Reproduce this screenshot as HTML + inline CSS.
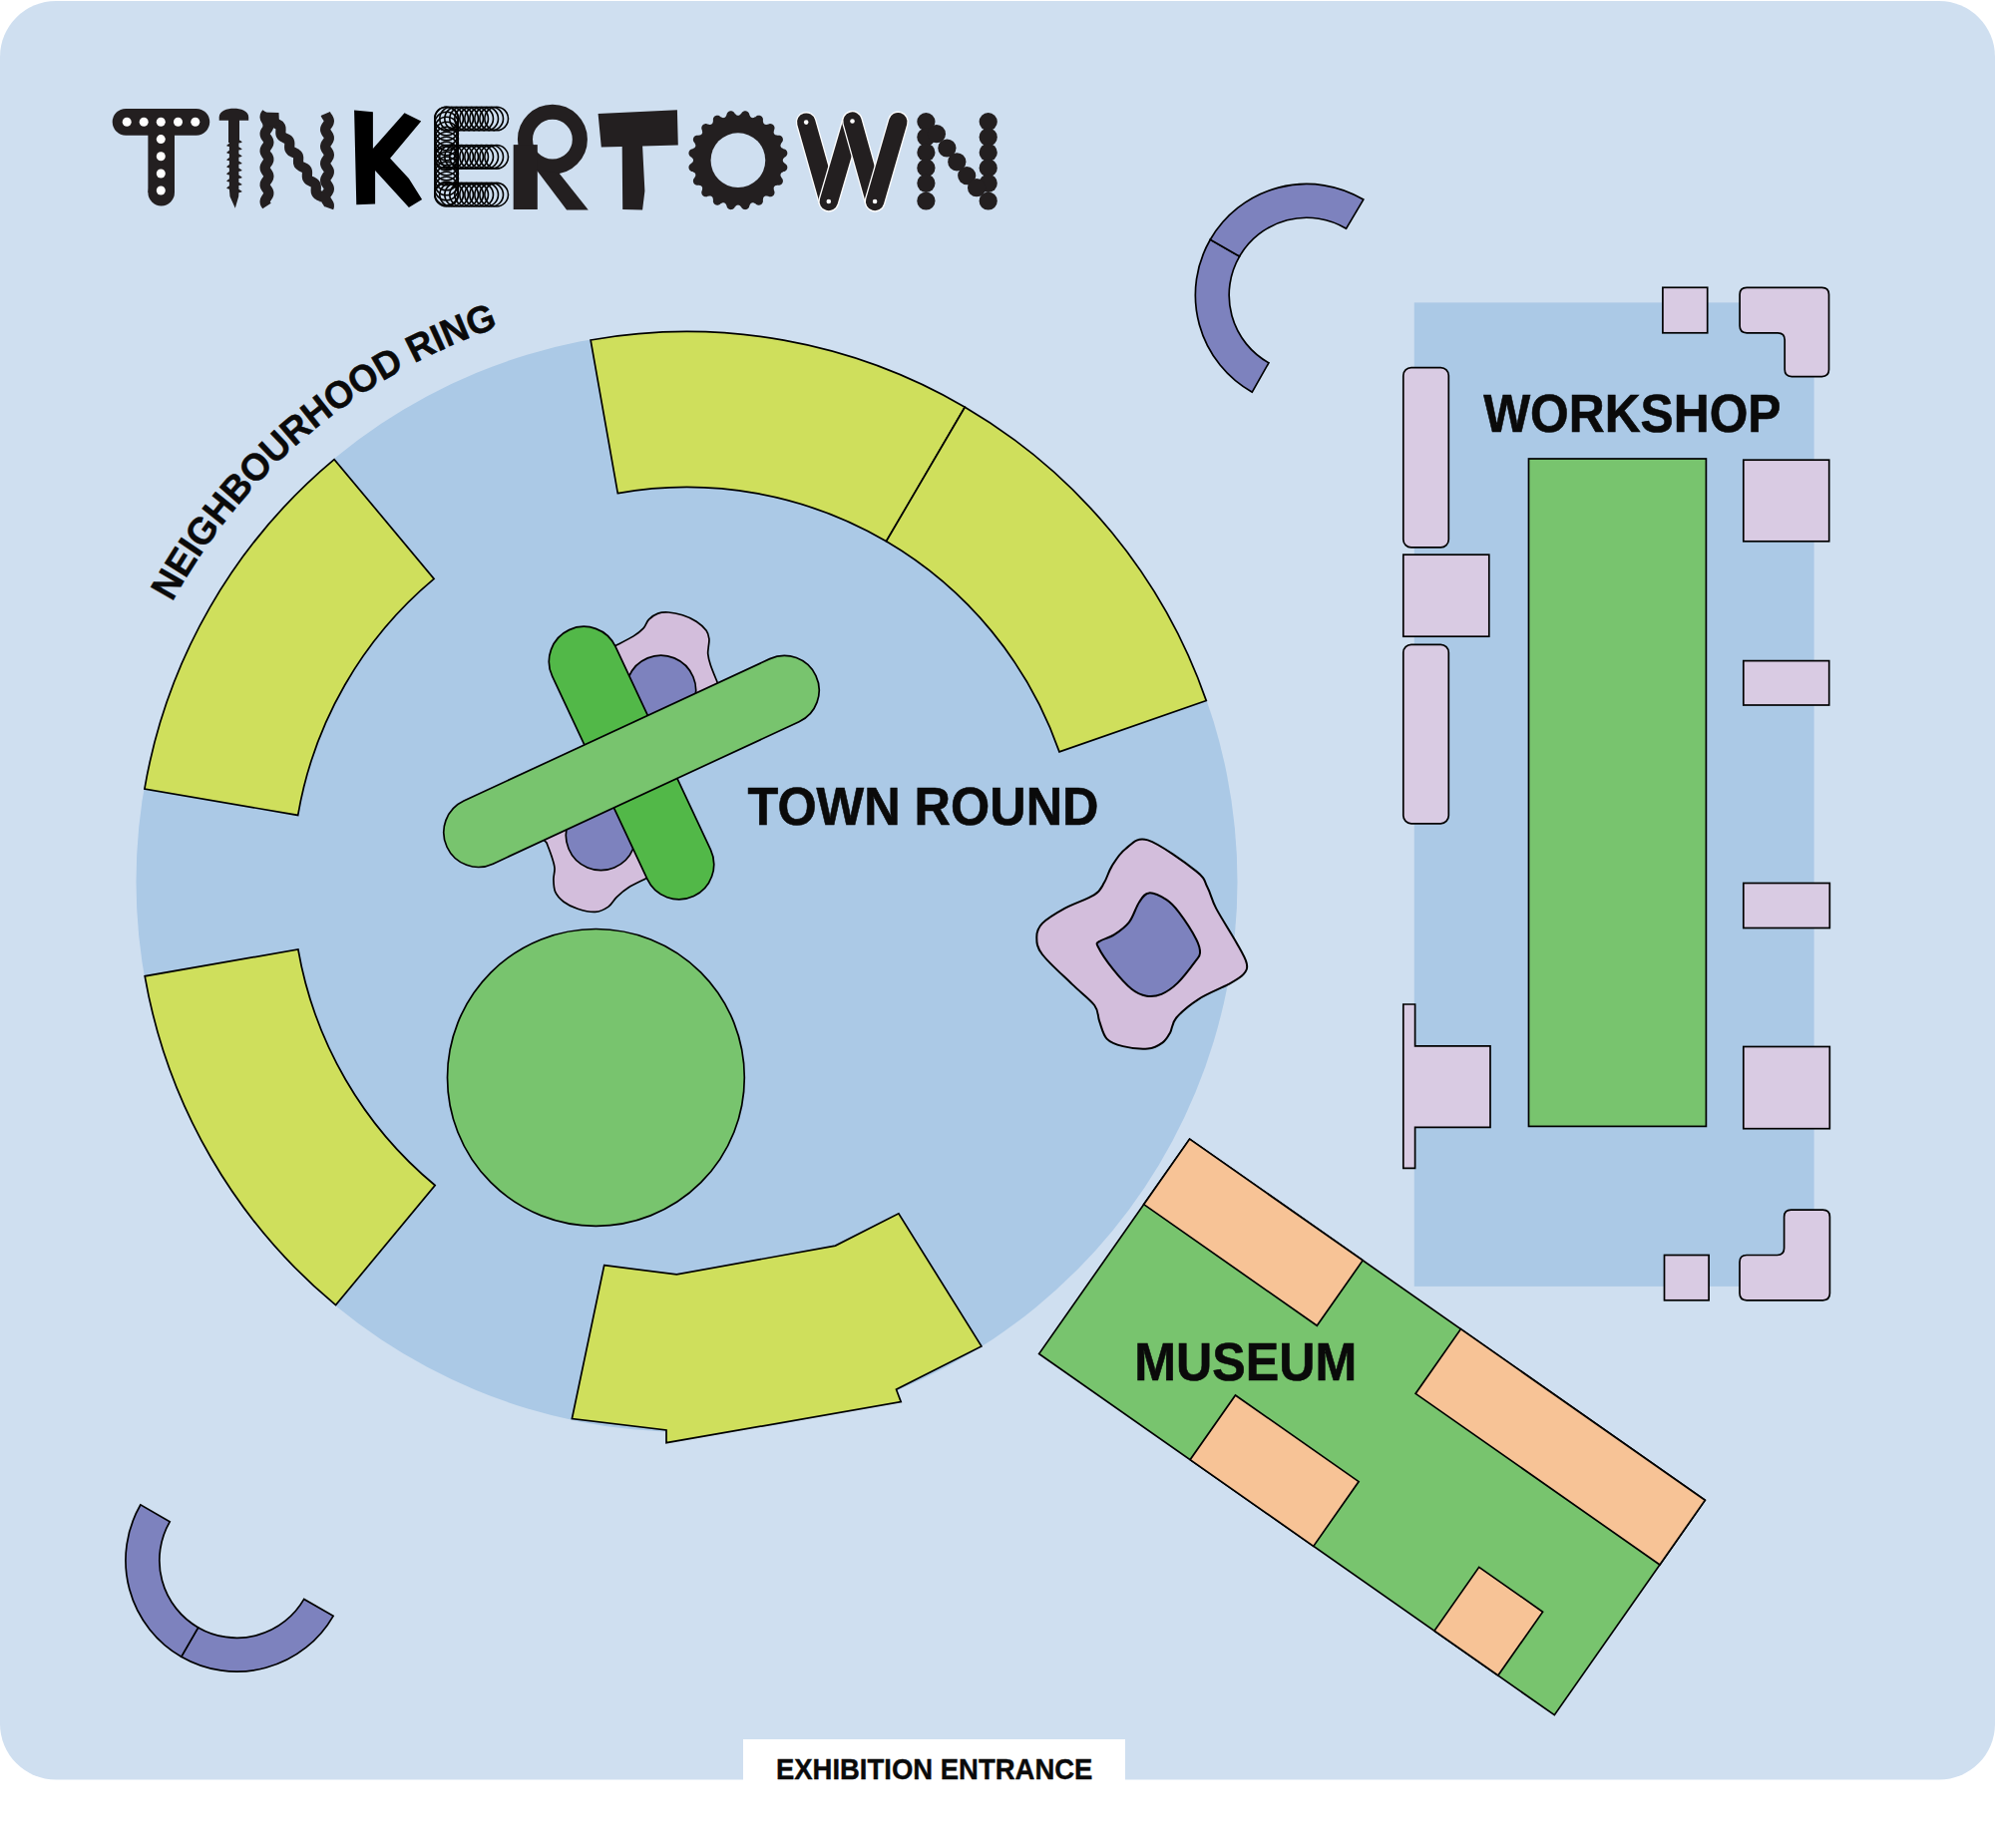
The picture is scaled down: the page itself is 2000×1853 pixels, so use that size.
<!DOCTYPE html>
<html><head><meta charset="utf-8"><style>
html,body{margin:0;padding:0;background:#fff;width:2000px;height:1853px;overflow:hidden}
svg{display:block}
</style></head><body>
<svg width="2000" height="1853" viewBox="0 0 2000 1853">
<rect x="0" y="1" width="2000" height="1783.5" rx="56" ry="56" fill="#cfdff0"/>
<circle cx="688.5" cy="884" r="552" fill="#abc9e6"/>
<path d="M592.1,341 A551.5,551.5 0 0 1 967.3,408.2 L888.5,542.8 A395.5,395.5 0 0 0 619.3,494.6 Z" fill="#cfdf5c" stroke="#000" stroke-width="1.7" stroke-linejoin="miter"/>
<path d="M967.3,408.2 A551.5,551.5 0 0 1 1209.3,702.6 L1062,753.9 A395.5,395.5 0 0 0 888.5,542.8 Z" fill="#cfdf5c" stroke="#000" stroke-width="1.7" stroke-linejoin="miter"/>
<path d="M144.9,791.1 A551.5,551.5 0 0 1 335.1,460.6 L435.1,580.4 A395.5,395.5 0 0 0 298.7,817.4 Z" fill="#cfdf5c" stroke="#000" stroke-width="1.7" stroke-linejoin="miter"/>
<path d="M336.6,1308.6 A551.5,551.5 0 0 1 145.2,978.8 L298.9,952 A395.5,395.5 0 0 0 436.1,1188.5 Z" fill="#cfdf5c" stroke="#000" stroke-width="1.7" stroke-linejoin="miter"/>
<path d="M605.7,1268.7 L678.3,1277.9 L837.4,1249.1 L900.9,1216.8 L983.9,1349.9 L898.5,1393.2 L903.2,1405.7 L668,1446.7 L668,1434 L573.4,1422.5 Z" fill="#cfdf5c" stroke="#000" stroke-width="1.7"/>
<circle cx="597.4" cy="1080.4" r="148.9" fill="#78c46e" stroke="#000" stroke-width="1.7"/>
<path d="M612,650 L617.9,647 C620.8,645.5 630.6,640.7 635.1,637.9 C639.6,635.1 642.3,633 644.9,630.2 C647.5,627.4 648,623.6 650.5,621.1 C653,618.6 656.3,616.3 659.6,615.1 C662.9,613.9 666.1,613.7 670.2,614 C674.3,614.3 679.5,615.3 684.2,616.8 C688.9,618.3 694.2,620.6 698.2,623.2 C702.2,625.8 706,629.4 708.1,632.3 C710.2,635.2 710.5,637.9 710.9,640.7 C711.2,643.5 710.4,646.5 710.2,649.1 C710,651.7 709.4,653.2 709.8,656.1 C710.1,659 710.8,662.2 712.3,666.7 C713.8,671.2 717.5,680.1 718.6,682.8 L722,692 L543,840 L547.9,844.9 C548.8,847.3 551.9,855 553.2,859.3 C554.6,863.6 555.7,866.8 556,870.5 C556.3,874.2 554.8,877.8 554.9,881.8 C555,885.8 555,890.7 556.7,894.4 C558.4,898.1 561.4,901.4 565.1,904.2 C568.8,907 573.8,909.5 579.1,911.2 C584.4,912.9 591.6,914.8 596.7,914.4 C601.9,914 606.4,911.6 610,909.1 C613.6,906.6 615.1,902.4 618.4,899.3 C621.7,896.1 624.8,893.2 629.6,890.2 C634.4,887.2 644.3,882.6 647.2,881.1 L652,878 L612,650 Z" fill="#d3bedc" stroke="#000" stroke-width="1.7"/>
<rect x="518.8" y="729.9" width="227.4" height="70" rx="35" fill="#7d82be" stroke="#000" stroke-width="1.7" transform="rotate(112.5 632.5 764.9)"/>
<rect x="485.7" y="730" width="294.7" height="70" rx="35" fill="#52b848" stroke="#000" stroke-width="1.7" transform="rotate(64.9 633 765)"/>
<rect x="429.1" y="728.6" width="407.8" height="69.6" rx="34.8" fill="#78c46e" stroke="#000" stroke-width="1.7" transform="rotate(-24.9 633 763.4)"/>
<path d="M1150.7,842.4 C1162.5,846.1 1189.3,865.7 1199.3,873.6 C1209.3,881.5 1207.2,883.6 1210.5,889.8 C1213.8,896 1214.4,901.8 1219.2,910.9 C1224,920 1234,935.4 1239.1,944.5 C1244.2,953.6 1248.5,960.3 1249.7,965.7 C1251,971.1 1249.6,973.4 1246.6,976.9 C1243.6,980.4 1239.1,982.8 1231.6,986.9 C1224.1,991 1210.4,996.2 1201.7,1001.8 C1193,1007.4 1184.1,1014.9 1179.3,1020.5 C1174.5,1026.1 1175.4,1031.2 1173.1,1035.4 C1170.8,1039.6 1169.3,1042.7 1165.6,1045.4 C1161.9,1048.1 1157.3,1051 1150.7,1051.6 C1144.1,1052.2 1132.7,1050.8 1125.8,1049.1 C1118.9,1047.4 1113.5,1045.8 1109.6,1041.6 C1105.7,1037.4 1104.3,1029.8 1102.2,1024.2 C1100.1,1018.6 1101.8,1014.2 1097.2,1008 C1092.6,1001.8 1083.5,995.4 1074.8,986.9 C1066.1,978.4 1050.8,964.9 1044.9,957 C1039,949.1 1039.3,944.7 1039.3,939.5 C1039.3,934.3 1040.2,930.7 1044.9,925.9 C1049.6,921.1 1058.6,915.7 1067.3,910.9 C1076,906.1 1090.6,901.6 1097.2,897.2 C1103.8,892.9 1104.2,889.6 1107.1,884.8 C1110,880 1111.1,874.2 1114.6,868.6 C1118.1,863 1122.3,855.6 1128.3,851.2 C1134.3,846.8 1138.9,838.7 1150.7,842.4 Z" fill="#d3bedc" stroke="#000" stroke-width="2"/>
<path d="M1152,895.4 C1156.6,895 1164.4,899 1169.4,902.2 C1174.4,905.4 1176.8,908.1 1181.8,914.7 C1186.8,921.3 1195.8,935.2 1199.3,942 C1202.8,948.8 1203.2,952 1203,955.7 C1202.8,959.4 1201.7,959.4 1198,964.4 C1194.3,969.4 1186.2,980.2 1180.6,985.6 C1175,991 1169.6,994.6 1164.4,996.8 C1159.2,999 1154.5,999.5 1149.5,998.7 C1144.5,997.9 1140.1,996.3 1134.5,991.8 C1128.9,987.3 1121.5,978.9 1115.9,971.9 C1110.3,964.9 1103.2,954.2 1100.9,949.5 C1098.6,944.8 1099.5,946 1102.2,943.9 C1104.9,941.8 1112.1,940.3 1117.1,937.1 C1122.1,933.9 1127.8,930 1132,924.6 C1136.2,919.2 1138.7,909.6 1142,904.7 C1145.3,899.8 1147.4,895.8 1152,895.4 Z" fill="#7d82be" stroke="#000" stroke-width="2"/>
<path d="M1255.3,393.2 A111.5,111.5 0 0 1 1213.3,240.2 L1242.6,257.1 A77.7,77.7 0 0 0 1271.9,363.8 Z" fill="#7d82be" stroke="#000" stroke-width="1.7"/>
<path d="M1213.3,240.2 A111.5,111.5 0 0 1 1366.8,200.1 L1349.6,229.2 A77.7,77.7 0 0 0 1242.6,257.1 Z" fill="#7d82be" stroke="#000" stroke-width="1.7"/>
<path d="M334.1,1620.3 A111.5,111.5 0 0 1 181.8,1661.2 L198.7,1631.9 A77.7,77.7 0 0 0 304.8,1603.4 Z" fill="#7d82be" stroke="#000" stroke-width="1.7"/>
<path d="M181.8,1661.2 A111.5,111.5 0 0 1 140.9,1508.8 L170.2,1525.8 A77.7,77.7 0 0 0 198.7,1631.9 Z" fill="#7d82be" stroke="#000" stroke-width="1.7"/>
<rect x="1417.8" y="303.4" width="400.8" height="986.5" fill="#abc9e6"/>
<rect x="1532.5" y="460" width="177.9" height="669.4" fill="#78c46e" stroke="#000" stroke-width="1.7"/>
<rect x="1666.9" y="288.3" width="44.8" height="45.5" rx="0" fill="#d9cbe3" stroke="#000" stroke-width="1.7"/>
<rect x="1406.8" y="368.6" width="45.5" height="180.3" rx="8" fill="#d9cbe3" stroke="#000" stroke-width="1.7"/>
<rect x="1406.8" y="556.2" width="86" height="82" rx="0" fill="#d9cbe3" stroke="#000" stroke-width="1.7"/>
<rect x="1406.8" y="646.3" width="45.5" height="179.5" rx="8" fill="#d9cbe3" stroke="#000" stroke-width="1.7"/>
<rect x="1747.8" y="461.2" width="85.9" height="81.6" rx="0" fill="#d9cbe3" stroke="#000" stroke-width="1.7"/>
<rect x="1747.8" y="662.6" width="85.9" height="44.4" rx="0" fill="#d9cbe3" stroke="#000" stroke-width="1.7"/>
<rect x="1747.8" y="885.5" width="86.5" height="45" rx="0" fill="#d9cbe3" stroke="#000" stroke-width="1.7"/>
<rect x="1747.8" y="1049.5" width="86.5" height="82.2" rx="0" fill="#d9cbe3" stroke="#000" stroke-width="1.7"/>
<rect x="1668.5" y="1258.5" width="44.6" height="45.3" rx="0" fill="#d9cbe3" stroke="#000" stroke-width="1.7"/>
<path d="M1406.8,1007 L1418.6,1007 L1418.6,1048.9 L1494,1048.9 L1494,1130.4 L1418.6,1130.4 L1418.6,1171.3 L1406.8,1171.3 Z" fill="#d9cbe3" stroke="#000" stroke-width="1.7"/>
<path d="M1751.1,288.3 L1826.5,288.3 Q1833.5,288.3 1833.5,295.3 L1833.5,370.6 Q1833.5,377.6 1826.5,377.6 L1796.2,377.6 Q1789.2,377.6 1789.2,370.6 L1789.2,340.8 Q1789.2,333.8 1782.2,333.8 L1751.1,333.8 Q1744.1,333.8 1744.1,326.8 L1744.1,295.3 Q1744.1,288.3 1751.1,288.3 Z" fill="#d9cbe3" stroke="#000" stroke-width="1.7"/>
<path d="M1795.6,1213.2 L1827.4,1213.2 Q1834.4,1213.2 1834.4,1220.2 L1834.4,1296.8 Q1834.4,1303.8 1827.4,1303.8 L1751,1303.8 Q1744,1303.8 1744,1296.8 L1744,1265.5 Q1744,1258.5 1751,1258.5 L1781.6,1258.5 Q1788.6,1258.5 1788.6,1251.5 L1788.6,1220.2 Q1788.6,1213.2 1795.6,1213.2 Z" fill="#d9cbe3" stroke="#000" stroke-width="1.7"/>
<g transform="translate(1192.6 1142.1) rotate(35.03)"><rect x="0" y="0" width="631" height="263" fill="#78c46e" stroke="#000" stroke-width="1.7"/><rect x="0" y="0" width="212" height="80" fill="#f7c396" stroke="#000" stroke-width="1.7"/><rect x="332" y="0" width="299" height="79" fill="#f7c396" stroke="#000" stroke-width="1.7"/><rect x="185" y="184" width="151" height="79" fill="#f7c396" stroke="#000" stroke-width="1.7"/><rect x="484" y="185" width="78" height="78" fill="#f7c396" stroke="#000" stroke-width="1.7"/></g>
<text x="749.5" y="827.1" font-family="Liberation Sans, sans-serif" font-weight="bold" font-size="54" stroke="#0a0a0a" stroke-width="0.6" textLength="352" lengthAdjust="spacingAndGlyphs" fill="#0a0a0a">TOWN ROUND</text>
<text x="1487.2" y="432.7" font-family="Liberation Sans, sans-serif" font-weight="bold" font-size="54" stroke="#0a0a0a" stroke-width="0.6" textLength="298.3" lengthAdjust="spacingAndGlyphs" fill="#0a0a0a">WORKSHOP</text>
<text x="1137.2" y="1384.2" font-family="Liberation Sans, sans-serif" font-weight="bold" font-size="54" stroke="#0a0a0a" stroke-width="0.6" textLength="223" lengthAdjust="spacingAndGlyphs" fill="#0a0a0a">MUSEUM</text>
<rect x="745" y="1744" width="383" height="60" fill="#fff"/>
<text x="777.9" y="1784" font-family="Liberation Sans, sans-serif" font-weight="bold" font-size="30" stroke="#0a0a0a" stroke-width="0.4" textLength="317.5" lengthAdjust="spacingAndGlyphs" fill="#0a0a0a">EXHIBITION ENTRANCE</text>
<g font-family="Liberation Sans, sans-serif" font-weight="bold" font-size="38" stroke="#0a0a0a" stroke-width="0.5" fill="#0a0a0a"><text transform="translate(179.1 592.3) rotate(-60.2) scale(0.969 1)" text-anchor="middle">N</text><text transform="translate(192.3 570.4) rotate(-57.7) scale(0.969 1)" text-anchor="middle">E</text><text transform="translate(201.8 555.8) rotate(-56) scale(0.969 1)" text-anchor="middle">I</text><text transform="translate(213 539.9) rotate(-54.1) scale(0.969 1)" text-anchor="middle">G</text><text transform="translate(229.7 517.9) rotate(-51.4) scale(0.969 1)" text-anchor="middle">H</text><text transform="translate(246.7 497.5) rotate(-48.8) scale(0.969 1)" text-anchor="middle">B</text><text transform="translate(265.4 477.1) rotate(-46.1) scale(0.969 1)" text-anchor="middle">O</text><text transform="translate(285 457.6) rotate(-43.4) scale(0.969 1)" text-anchor="middle">U</text><text transform="translate(304.8 439.8) rotate(-40.8) scale(0.969 1)" text-anchor="middle">R</text><text transform="translate(325.3 422.9) rotate(-38.2) scale(0.969 1)" text-anchor="middle">H</text><text transform="translate(347.4 406.3) rotate(-35.5) scale(0.969 1)" text-anchor="middle">O</text><text transform="translate(371.1 390.2) rotate(-32.7) scale(0.969 1)" text-anchor="middle">O</text><text transform="translate(394.7 375.8) rotate(-30) scale(0.969 1)" text-anchor="middle">D</text><text transform="translate(427.1 358.4) rotate(-26.4) scale(0.969 1)" text-anchor="middle">R</text><text transform="translate(443.8 350.5) rotate(-24.6) scale(0.969 1)" text-anchor="middle">I</text><text transform="translate(460.6 343) rotate(-22.8) scale(0.969 1)" text-anchor="middle">N</text><text transform="translate(486.3 332.9) rotate(-20.1) scale(0.969 1)" text-anchor="middle">G</text></g>
<g id="logo">
<rect x="112.7" y="108.9" width="97.5" height="26.8" rx="13.4" fill="#231f20"/>
<rect x="148.4" y="122" width="26.6" height="71" fill="#231f20"/>
<circle cx="161.7" cy="193.1" r="13.3" fill="#231f20"/>
<circle cx="127.2" cy="122.3" r="4.5" fill="#fff"/>
<circle cx="144.2" cy="122.3" r="4.5" fill="#fff"/>
<circle cx="161.3" cy="122.3" r="4.5" fill="#fff"/>
<circle cx="178.5" cy="122.3" r="4.5" fill="#fff"/>
<circle cx="195.8" cy="122.3" r="4.5" fill="#fff"/>
<circle cx="161.3" cy="139.6" r="4.5" fill="#fff"/>
<circle cx="161.3" cy="156.8" r="4.5" fill="#fff"/>
<circle cx="161.3" cy="174" r="4.5" fill="#fff"/>
<circle cx="161.3" cy="191" r="4.5" fill="#fff"/>
<path d="M219.7,120.7 L219.7,117.5 C219.7,111.2 227.5,108.8 234.45,108.8 C241.4,108.8 249.2,111.2 249.2,117.5 L249.2,120.7 Z" fill="#231f20"/>
<rect x="229" y="120" width="11" height="23" fill="#231f20"/>
<path d="M229.9,142 L229.9,143.7 L227.3,145.7 L227.5,146.5 L229.9,147.1 L229.9,150.8 L227.3,152.8 L227.5,153.6 L229.9,154.2 L229.9,157.9 L227.3,159.9 L227.5,160.7 L229.9,161.3 L229.9,165 L227.3,167 L227.5,167.8 L229.9,168.4 L229.9,172.1 L227.3,174.1 L227.5,174.9 L229.9,175.5 L229.9,179.2 L227.3,181.2 L227.5,182 L229.9,182.6 L229.9,186.3 L227.3,188.3 L227.5,189.1 L229.9,189.7 L230.5,197 L235.8,208.8 L239.2,197 L239.4,193.2 L242.3,192.6 L242.5,191.8 L239.4,189.8 L239.4,186.1 L242.3,185.5 L242.5,184.7 L239.4,182.7 L239.4,179 L242.3,178.4 L242.5,177.6 L239.4,175.6 L239.4,171.9 L242.3,171.3 L242.5,170.5 L239.4,168.5 L239.4,164.8 L242.3,164.2 L242.5,163.4 L239.4,161.4 L239.4,157.7 L242.3,157.1 L242.5,156.3 L239.4,154.3 L239.4,150.6 L242.3,150 L242.5,149.2 L239.4,147.2 L239.4,143.5 L242.3,142.9 L242.5,142.1 L239.4,140.1 L239.4,142 Z" fill="#231f20"/>
<path d="M267.5,113 L266.51,114.48 L265.81,115.97 L265.61,117.45 L265.96,118.94 L266.76,120.42 L267.78,121.9 L268.72,123.39 L269.3,124.87 L269.35,126.36 L268.86,127.84 L267.97,129.33 L266.94,130.81 L266.08,132.29 L265.63,133.78 L265.73,135.26 L266.35,136.75 L267.31,138.23 L268.32,139.71 L269.1,141.2 L269.4,142.68 L269.15,144.17 L268.41,145.65 L267.41,147.13 L266.43,148.62 L265.77,150.1 L265.61,151.59 L266.01,153.07 L266.85,154.56 L267.88,156.04 L268.79,157.52 L269.33,159.01 L269.33,160.49 L268.79,161.98 L267.88,163.46 L266.85,164.94 L266.01,166.43 L265.61,167.91 L265.77,169.4 L266.43,170.88 L267.41,172.37 L268.41,173.85 L269.15,175.33 L269.4,176.82 L269.1,178.3 L268.32,179.79 L267.31,181.27 L266.35,182.75 L265.73,184.24 L265.63,185.72 L266.08,187.21 L266.94,188.69 L267.97,190.17 L268.86,191.66 L269.35,193.14 L269.3,194.63 L268.72,196.11 L267.78,197.6 L266.76,199.08 L265.96,200.56 L265.61,202.05 L265.81,203.53 L266.51,205.02 L267.5,206.5" fill="none" stroke="#231f20" stroke-width="10.2" stroke-linejoin="round"/>
<path d="M272.63,119.83 L273.15,121.26 L274.16,122.4 L275.58,123.29 L277.22,124.04 L278.83,124.81 L280.16,125.75 L281.04,126.96 L281.45,128.46 L281.49,130.19 L281.38,132.01 L281.39,133.75 L281.74,135.29 L282.56,136.54 L283.84,137.51 L285.43,138.29 L287.08,139.03 L288.54,139.89 L289.61,141 L290.19,142.4 L290.34,144.05 L290.26,145.85 L290.19,147.64 L290.39,149.27 L291.03,150.63 L292.15,151.69 L293.65,152.53 L295.31,153.27 L296.87,154.07 L298.1,155.08 L298.86,156.36 L299.16,157.93 L299.14,159.69 L299.03,161.51 L299.11,163.21 L299.57,164.68 L300.52,165.85 L301.9,166.76 L303.53,167.52 L305.15,168.28 L306.53,169.19 L307.47,170.37 L307.93,171.84 L308.01,173.54 L307.9,175.36 L307.88,177.12 L308.18,178.68 L308.95,179.97 L310.18,180.97 L311.74,181.77 L313.4,182.51 L314.89,183.35 L316.01,184.42 L316.65,185.78 L316.85,187.41 L316.78,189.2 L316.7,191 L316.86,192.65 L317.44,194.05 L318.51,195.15 L319.97,196.01 L321.62,196.75 L323.21,197.54 L324.48,198.51 L325.3,199.76 L325.65,201.3" fill="none" stroke="#231f20" stroke-width="10.2" stroke-linejoin="round"/>
<path d="M326.27,114 L326.93,115.48 L327.9,116.95 L328.9,118.43 L329.64,119.91 L329.9,121.38 L329.61,122.86 L328.85,124.34 L327.84,125.81 L326.88,127.29 L326.25,128.77 L326.12,130.24 L326.54,131.72 L327.38,133.2 L328.41,134.67 L329.31,136.15 L329.83,137.62 L329.82,139.1 L329.29,140.58 L328.37,142.05 L327.35,143.53 L326.52,145.01 L326.12,146.48 L326.26,147.96 L326.91,149.44 L327.88,150.91 L328.88,152.39 L329.63,153.87 L329.9,155.34 L329.62,156.82 L328.87,158.3 L327.87,159.77 L326.91,161.25 L326.26,162.73 L326.12,164.2 L326.52,165.68 L327.36,167.16 L328.38,168.63 L329.29,170.11 L329.83,171.59 L329.83,173.06 L329.31,174.54 L328.4,176.02 L327.38,177.49 L326.54,178.97 L326.12,180.45 L326.25,181.92 L326.89,183.4 L327.85,184.88 L328.85,186.35 L329.61,187.83 L329.9,189.3 L329.64,190.78 L328.9,192.26 L327.9,193.73 L326.93,195.21 L326.27,196.69 L326.11,198.16 L326.51,199.64 L327.33,201.12 L328.35,202.59 L329.27,204.07 L329.82,205.55 L329.84,207.02 L329.33,208.5" fill="none" stroke="#231f20" stroke-width="10.2" stroke-linejoin="round"/>
<path d="M263,112.5 L279.5,113 L280,125 L263.5,127 Z" fill="#231f20"/>
<path d="M355.1,110.5 L373.9,112.3 L373.9,149.1 L405.5,113.2 L422.2,121.5 L391.1,158.8 L409.9,179 L423.1,200 L409.9,207.9 L376.1,171 L376.1,204.4 L357.3,205.3 Z" fill="#000"/>
<g fill="none" stroke="#000" stroke-width="1.6"><circle cx="447.6" cy="119" r="11.8"/><circle cx="452.61" cy="119" r="11.8"/><circle cx="457.62" cy="119" r="11.8"/><circle cx="462.63" cy="119" r="11.8"/><circle cx="467.64" cy="119" r="11.8"/><circle cx="472.65" cy="119" r="11.8"/><circle cx="477.66" cy="119" r="11.8"/><circle cx="482.67" cy="119" r="11.8"/><circle cx="487.68" cy="119" r="11.8"/><circle cx="492.69" cy="119" r="11.8"/><circle cx="497.7" cy="119" r="11.8"/><circle cx="447.6" cy="157.3" r="11.8"/><circle cx="452.61" cy="157.3" r="11.8"/><circle cx="457.62" cy="157.3" r="11.8"/><circle cx="462.63" cy="157.3" r="11.8"/><circle cx="467.64" cy="157.3" r="11.8"/><circle cx="472.65" cy="157.3" r="11.8"/><circle cx="477.66" cy="157.3" r="11.8"/><circle cx="482.67" cy="157.3" r="11.8"/><circle cx="487.68" cy="157.3" r="11.8"/><circle cx="492.69" cy="157.3" r="11.8"/><circle cx="497.7" cy="157.3" r="11.8"/><circle cx="447.6" cy="195.2" r="11.8"/><circle cx="452.61" cy="195.2" r="11.8"/><circle cx="457.62" cy="195.2" r="11.8"/><circle cx="462.63" cy="195.2" r="11.8"/><circle cx="467.64" cy="195.2" r="11.8"/><circle cx="472.65" cy="195.2" r="11.8"/><circle cx="477.66" cy="195.2" r="11.8"/><circle cx="482.67" cy="195.2" r="11.8"/><circle cx="487.68" cy="195.2" r="11.8"/><circle cx="492.69" cy="195.2" r="11.8"/><circle cx="497.7" cy="195.2" r="11.8"/><circle cx="447.6" cy="119" r="11.8"/><circle cx="447.6" cy="124" r="11.8"/><circle cx="447.6" cy="129" r="11.8"/><circle cx="447.6" cy="134" r="11.8"/><circle cx="447.6" cy="139" r="11.8"/><circle cx="447.6" cy="144" r="11.8"/><circle cx="447.6" cy="149" r="11.8"/><circle cx="447.6" cy="154" r="11.8"/><circle cx="447.6" cy="159" r="11.8"/><circle cx="447.6" cy="164" r="11.8"/><circle cx="447.6" cy="169" r="11.8"/><circle cx="447.6" cy="174" r="11.8"/><circle cx="447.6" cy="179" r="11.8"/><circle cx="447.6" cy="184" r="11.8"/><circle cx="447.6" cy="189" r="11.8"/><circle cx="447.6" cy="194" r="11.8"/></g>
<circle cx="553.9" cy="139.7" r="27.45" fill="none" stroke="#231f20" stroke-width="15.1"/>
<rect x="514.7" y="145.1" width="24.1" height="64.9" fill="#231f20"/>
<path d="M537.9,170.6 L560.6,173.8 L589.8,210.4 L568.1,210.4 Z" fill="#231f20"/>
<path d="M599.6,114 L678.9,110.3 L679.8,145.5 L644.1,146.5 L646.4,191.4 L644.1,210.4 L624.2,210 L623.7,147 L602.8,147.4 Z" fill="#231f20"/>
<path d="M784.8,160.7 L784.81,160.9 L784.83,161.09 L784.86,161.29 L784.9,161.49 L784.97,161.68 L785.04,161.88 L785.14,162.08 L785.25,162.28 L785.39,162.49 L785.56,162.69 L785.76,162.9 L786.02,163.12 L786.37,163.34 L786.41,163.54 L786.4,163.75 L786.93,163.99 L787.35,164.23 L787.68,164.46 L787.96,164.69 L788.19,164.92 L788.39,165.16 L788.56,165.39 L788.71,165.62 L788.84,165.84 L788.95,166.07 L789.05,166.3 L789.13,166.53 L789.2,166.75 L789.25,166.98 L789.29,167.2 L789.32,167.43 L789.33,167.65 L789.34,167.87 L789.33,168.09 L789.31,168.31 L789.28,168.52 L789.24,168.74 L789.19,168.95 L789.13,169.16 L789.06,169.37 L788.98,169.57 L788.88,169.78 L788.77,169.98 L788.65,170.18 L788.52,170.37 L788.37,170.56 L788.21,170.75 L788.04,170.93 L787.84,171.11 L787.63,171.28 L787.39,171.45 L787.13,171.6 L786.84,171.75 L786.51,171.89 L786.12,172.01 L785.65,172.11 L785.07,172.17 L785.02,172.37 L784.91,172.55 L784.51,172.65 L784.2,172.78 L783.94,172.91 L783.72,173.06 L783.52,173.21 L783.35,173.36 L783.2,173.53 L783.06,173.69 L782.94,173.86 L782.84,174.03 L782.75,174.21 L782.67,174.39 L782.6,174.57 L782.55,174.76 L782.51,174.96 L782.48,175.15 L782.46,175.35 L782.46,175.56 L782.47,175.77 L782.5,175.99 L782.54,176.22 L782.61,176.46 L782.71,176.71 L782.84,176.97 L783.02,177.25 L783.28,177.57 L783.26,177.78 L783.18,177.97 L783.61,178.36 L783.94,178.72 L784.18,179.04 L784.37,179.35 L784.52,179.64 L784.64,179.92 L784.73,180.19 L784.8,180.46 L784.86,180.72 L784.89,180.97 L784.91,181.21 L784.92,181.45 L784.91,181.69 L784.89,181.92 L784.86,182.15 L784.82,182.37 L784.77,182.58 L784.7,182.79 L784.63,183 L784.54,183.2 L784.45,183.4 L784.35,183.59 L784.23,183.78 L784.11,183.96 L783.98,184.14 L783.83,184.31 L783.68,184.47 L783.51,184.63 L783.34,184.78 L783.15,184.92 L782.95,185.06 L782.74,185.19 L782.52,185.31 L782.28,185.41 L782.02,185.51 L781.75,185.6 L781.45,185.67 L781.13,185.72 L780.77,185.74 L780.36,185.74 L779.88,185.68 L779.31,185.57 L779.2,185.74 L779.05,185.88 L778.64,185.85 L778.3,185.88 L778.01,185.92 L777.75,185.99 L777.52,186.08 L777.31,186.17 L777.12,186.28 L776.94,186.39 L776.77,186.52 L776.62,186.65 L776.48,186.79 L776.35,186.94 L776.22,187.09 L776.11,187.25 L776.02,187.42 L775.93,187.6 L775.85,187.79 L775.78,187.98 L775.73,188.19 L775.69,188.41 L775.66,188.64 L775.65,188.88 L775.67,189.15 L775.71,189.44 L775.79,189.77 L775.95,190.15 L775.86,190.34 L775.73,190.5 L776.02,191.01 L776.22,191.45 L776.35,191.83 L776.43,192.18 L776.48,192.5 L776.51,192.81 L776.51,193.09 L776.5,193.37 L776.47,193.63 L776.43,193.88 L776.37,194.12 L776.3,194.35 L776.22,194.57 L776.13,194.79 L776.03,194.99 L775.93,195.19 L775.81,195.38 L775.68,195.56 L775.55,195.73 L775.41,195.9 L775.26,196.06 L775.1,196.21 L774.93,196.35 L774.76,196.48 L774.58,196.61 L774.39,196.73 L774.19,196.83 L773.99,196.93 L773.77,197.02 L773.55,197.1 L773.32,197.17 L773.08,197.23 L772.83,197.27 L772.57,197.3 L772.29,197.31 L772.01,197.31 L771.7,197.28 L771.38,197.23 L771.03,197.15 L770.65,197.02 L770.21,196.82 L769.7,196.53 L769.54,196.66 L769.35,196.75 L768.97,196.59 L768.64,196.51 L768.35,196.47 L768.08,196.45 L767.84,196.46 L767.61,196.49 L767.39,196.53 L767.18,196.58 L766.99,196.65 L766.8,196.73 L766.62,196.82 L766.45,196.91 L766.29,197.02 L766.14,197.15 L765.99,197.28 L765.85,197.42 L765.72,197.57 L765.59,197.74 L765.48,197.92 L765.37,198.11 L765.28,198.32 L765.19,198.55 L765.12,198.81 L765.08,199.1 L765.05,199.44 L765.08,199.85 L764.94,200 L764.77,200.11 L764.88,200.68 L764.94,201.16 L764.94,201.57 L764.92,201.93 L764.87,202.25 L764.8,202.55 L764.71,202.82 L764.61,203.08 L764.51,203.32 L764.39,203.54 L764.26,203.75 L764.12,203.95 L763.98,204.14 L763.83,204.31 L763.67,204.48 L763.51,204.63 L763.34,204.78 L763.16,204.91 L762.98,205.03 L762.79,205.15 L762.6,205.25 L762.4,205.34 L762.2,205.43 L761.99,205.5 L761.78,205.57 L761.57,205.62 L761.35,205.66 L761.12,205.69 L760.89,205.71 L760.65,205.72 L760.41,205.71 L760.17,205.69 L759.92,205.66 L759.66,205.6 L759.39,205.53 L759.12,205.44 L758.84,205.32 L758.55,205.17 L758.24,204.98 L757.92,204.74 L757.56,204.41 L757.17,203.98 L756.98,204.06 L756.77,204.08 L756.45,203.82 L756.17,203.64 L755.91,203.51 L755.66,203.41 L755.42,203.34 L755.19,203.3 L754.97,203.27 L754.76,203.26 L754.55,203.26 L754.35,203.28 L754.16,203.31 L753.96,203.35 L753.77,203.4 L753.59,203.47 L753.41,203.55 L753.23,203.64 L753.06,203.74 L752.89,203.86 L752.73,204 L752.56,204.15 L752.41,204.32 L752.26,204.52 L752.11,204.74 L751.98,205 L751.85,205.31 L751.75,205.71 L751.57,205.82 L751.37,205.87 L751.31,206.45 L751.21,206.92 L751.09,207.31 L750.95,207.64 L750.8,207.93 L750.65,208.19 L750.48,208.43 L750.31,208.64 L750.13,208.84 L749.95,209.01 L749.76,209.17 L749.57,209.32 L749.38,209.45 L749.18,209.57 L748.98,209.68 L748.77,209.78 L748.57,209.86 L748.36,209.93 L748.15,209.99 L747.94,210.04 L747.72,210.08 L747.51,210.11 L747.29,210.13 L747.07,210.14 L746.85,210.13 L746.63,210.12 L746.4,210.09 L746.18,210.05 L745.95,210 L745.73,209.93 L745.5,209.85 L745.27,209.75 L745.04,209.64 L744.82,209.51 L744.59,209.36 L744.36,209.19 L744.12,208.99 L743.89,208.76 L743.66,208.48 L743.43,208.15 L743.19,207.73 L742.95,207.2 L742.74,207.21 L742.54,207.17 L742.32,206.82 L742.1,206.56 L741.89,206.36 L741.69,206.19 L741.48,206.05 L741.28,205.94 L741.08,205.84 L740.88,205.77 L740.69,205.7 L740.49,205.66 L740.29,205.63 L740.1,205.61 L739.9,205.6 L739.7,205.61 L739.51,205.63 L739.31,205.66 L739.11,205.7 L738.92,205.77 L738.72,205.84 L738.52,205.94 L738.32,206.05 L738.11,206.19 L737.91,206.36 L737.7,206.56 L737.48,206.82 L737.26,207.17 L737.06,207.21 L736.85,207.2 L736.61,207.73 L736.37,208.15 L736.14,208.48 L735.91,208.76 L735.68,208.99 L735.44,209.19 L735.21,209.36 L734.98,209.51 L734.76,209.64 L734.53,209.75 L734.3,209.85 L734.07,209.93 L733.85,210 L733.62,210.05 L733.4,210.09 L733.17,210.12 L732.95,210.13 L732.73,210.14 L732.51,210.13 L732.29,210.11 L732.08,210.08 L731.86,210.04 L731.65,209.99 L731.44,209.93 L731.23,209.86 L731.03,209.78 L730.82,209.68 L730.62,209.57 L730.42,209.45 L730.23,209.32 L730.04,209.17 L729.85,209.01 L729.67,208.84 L729.49,208.64 L729.32,208.43 L729.15,208.19 L729,207.93 L728.85,207.64 L728.71,207.31 L728.59,206.92 L728.49,206.45 L728.43,205.87 L728.23,205.82 L728.05,205.71 L727.95,205.31 L727.82,205 L727.69,204.74 L727.54,204.52 L727.39,204.32 L727.24,204.15 L727.07,204 L726.91,203.86 L726.74,203.74 L726.57,203.64 L726.39,203.55 L726.21,203.47 L726.03,203.4 L725.84,203.35 L725.64,203.31 L725.45,203.28 L725.25,203.26 L725.04,203.26 L724.83,203.27 L724.61,203.3 L724.38,203.34 L724.14,203.41 L723.89,203.51 L723.63,203.64 L723.35,203.82 L723.03,204.08 L722.82,204.06 L722.63,203.98 L722.24,204.41 L721.88,204.74 L721.56,204.98 L721.25,205.17 L720.96,205.32 L720.68,205.44 L720.41,205.53 L720.14,205.6 L719.88,205.66 L719.63,205.69 L719.39,205.71 L719.15,205.72 L718.91,205.71 L718.68,205.69 L718.45,205.66 L718.23,205.62 L718.02,205.57 L717.81,205.5 L717.6,205.43 L717.4,205.34 L717.2,205.25 L717.01,205.15 L716.82,205.03 L716.64,204.91 L716.46,204.78 L716.29,204.63 L716.13,204.48 L715.97,204.31 L715.82,204.14 L715.68,203.95 L715.54,203.75 L715.41,203.54 L715.29,203.32 L715.19,203.08 L715.09,202.82 L715,202.55 L714.93,202.25 L714.88,201.93 L714.86,201.57 L714.86,201.16 L714.92,200.68 L715.03,200.11 L714.86,200 L714.72,199.85 L714.75,199.44 L714.72,199.1 L714.68,198.81 L714.61,198.55 L714.52,198.32 L714.43,198.11 L714.32,197.92 L714.21,197.74 L714.08,197.57 L713.95,197.42 L713.81,197.28 L713.66,197.15 L713.51,197.02 L713.35,196.91 L713.18,196.82 L713,196.73 L712.81,196.65 L712.62,196.58 L712.41,196.53 L712.19,196.49 L711.96,196.46 L711.72,196.45 L711.45,196.47 L711.16,196.51 L710.83,196.59 L710.45,196.75 L710.26,196.66 L710.1,196.53 L709.59,196.82 L709.15,197.02 L708.77,197.15 L708.42,197.23 L708.1,197.28 L707.79,197.31 L707.51,197.31 L707.23,197.3 L706.97,197.27 L706.72,197.23 L706.48,197.17 L706.25,197.1 L706.03,197.02 L705.81,196.93 L705.61,196.83 L705.41,196.73 L705.22,196.61 L705.04,196.48 L704.87,196.35 L704.7,196.21 L704.54,196.06 L704.39,195.9 L704.25,195.73 L704.12,195.56 L703.99,195.38 L703.87,195.19 L703.77,194.99 L703.67,194.79 L703.58,194.57 L703.5,194.35 L703.43,194.12 L703.37,193.88 L703.33,193.63 L703.3,193.37 L703.29,193.09 L703.29,192.81 L703.32,192.5 L703.37,192.18 L703.45,191.83 L703.58,191.45 L703.78,191.01 L704.07,190.5 L703.94,190.34 L703.85,190.15 L704.01,189.77 L704.09,189.44 L704.13,189.15 L704.15,188.88 L704.14,188.64 L704.11,188.41 L704.07,188.19 L704.02,187.98 L703.95,187.79 L703.87,187.6 L703.78,187.42 L703.69,187.25 L703.58,187.09 L703.45,186.94 L703.32,186.79 L703.18,186.65 L703.03,186.52 L702.86,186.39 L702.68,186.28 L702.49,186.17 L702.28,186.08 L702.05,185.99 L701.79,185.92 L701.5,185.88 L701.16,185.85 L700.75,185.88 L700.6,185.74 L700.49,185.57 L699.92,185.68 L699.44,185.74 L699.03,185.74 L698.67,185.72 L698.35,185.67 L698.05,185.6 L697.78,185.51 L697.52,185.41 L697.28,185.31 L697.06,185.19 L696.85,185.06 L696.65,184.92 L696.46,184.78 L696.29,184.63 L696.12,184.47 L695.97,184.31 L695.82,184.14 L695.69,183.96 L695.57,183.78 L695.45,183.59 L695.35,183.4 L695.26,183.2 L695.17,183 L695.1,182.79 L695.03,182.58 L694.98,182.37 L694.94,182.15 L694.91,181.92 L694.89,181.69 L694.88,181.45 L694.89,181.21 L694.91,180.97 L694.94,180.72 L695,180.46 L695.07,180.19 L695.16,179.92 L695.28,179.64 L695.43,179.35 L695.62,179.04 L695.86,178.72 L696.19,178.36 L696.62,177.97 L696.54,177.78 L696.52,177.57 L696.78,177.25 L696.96,176.97 L697.09,176.71 L697.19,176.46 L697.26,176.22 L697.3,175.99 L697.33,175.77 L697.34,175.56 L697.34,175.35 L697.32,175.15 L697.29,174.96 L697.25,174.76 L697.2,174.57 L697.13,174.39 L697.05,174.21 L696.96,174.03 L696.86,173.86 L696.74,173.69 L696.6,173.53 L696.45,173.36 L696.28,173.21 L696.08,173.06 L695.86,172.91 L695.6,172.78 L695.29,172.65 L694.89,172.55 L694.78,172.37 L694.73,172.17 L694.15,172.11 L693.68,172.01 L693.29,171.89 L692.96,171.75 L692.67,171.6 L692.41,171.45 L692.17,171.28 L691.96,171.11 L691.76,170.93 L691.59,170.75 L691.43,170.56 L691.28,170.37 L691.15,170.18 L691.03,169.98 L690.92,169.78 L690.82,169.57 L690.74,169.37 L690.67,169.16 L690.61,168.95 L690.56,168.74 L690.52,168.52 L690.49,168.31 L690.47,168.09 L690.46,167.87 L690.47,167.65 L690.48,167.43 L690.51,167.2 L690.55,166.98 L690.6,166.75 L690.67,166.53 L690.75,166.3 L690.85,166.07 L690.96,165.84 L691.09,165.62 L691.24,165.39 L691.41,165.16 L691.61,164.92 L691.84,164.69 L692.12,164.46 L692.45,164.23 L692.87,163.99 L693.4,163.75 L693.39,163.54 L693.43,163.34 L693.78,163.12 L694.04,162.9 L694.24,162.69 L694.41,162.49 L694.55,162.28 L694.66,162.08 L694.76,161.88 L694.83,161.68 L694.9,161.49 L694.94,161.29 L694.97,161.09 L694.99,160.9 L695,160.7 L694.99,160.5 L694.97,160.31 L694.94,160.11 L694.9,159.91 L694.83,159.72 L694.76,159.52 L694.66,159.32 L694.55,159.12 L694.41,158.91 L694.24,158.71 L694.04,158.5 L693.78,158.28 L693.43,158.06 L693.39,157.86 L693.4,157.65 L692.87,157.41 L692.45,157.17 L692.12,156.94 L691.84,156.71 L691.61,156.48 L691.41,156.24 L691.24,156.01 L691.09,155.78 L690.96,155.56 L690.85,155.33 L690.75,155.1 L690.67,154.87 L690.6,154.65 L690.55,154.42 L690.51,154.2 L690.48,153.97 L690.47,153.75 L690.46,153.53 L690.47,153.31 L690.49,153.09 L690.52,152.88 L690.56,152.66 L690.61,152.45 L690.67,152.24 L690.74,152.03 L690.82,151.83 L690.92,151.62 L691.03,151.42 L691.15,151.22 L691.28,151.03 L691.43,150.84 L691.59,150.65 L691.76,150.47 L691.96,150.29 L692.17,150.12 L692.41,149.95 L692.67,149.8 L692.96,149.65 L693.29,149.51 L693.68,149.39 L694.15,149.29 L694.73,149.23 L694.78,149.03 L694.89,148.85 L695.29,148.75 L695.6,148.62 L695.86,148.49 L696.08,148.34 L696.28,148.19 L696.45,148.04 L696.6,147.87 L696.74,147.71 L696.86,147.54 L696.96,147.37 L697.05,147.19 L697.13,147.01 L697.2,146.83 L697.25,146.64 L697.29,146.44 L697.32,146.25 L697.34,146.05 L697.34,145.84 L697.33,145.63 L697.3,145.41 L697.26,145.18 L697.19,144.94 L697.09,144.69 L696.96,144.43 L696.78,144.15 L696.52,143.83 L696.54,143.62 L696.62,143.43 L696.19,143.04 L695.86,142.68 L695.62,142.36 L695.43,142.05 L695.28,141.76 L695.16,141.48 L695.07,141.21 L695,140.94 L694.94,140.68 L694.91,140.43 L694.89,140.19 L694.88,139.95 L694.89,139.71 L694.91,139.48 L694.94,139.25 L694.98,139.03 L695.03,138.82 L695.1,138.61 L695.17,138.4 L695.26,138.2 L695.35,138 L695.45,137.81 L695.57,137.62 L695.69,137.44 L695.82,137.26 L695.97,137.09 L696.12,136.93 L696.29,136.77 L696.46,136.62 L696.65,136.48 L696.85,136.34 L697.06,136.21 L697.28,136.09 L697.52,135.99 L697.78,135.89 L698.05,135.8 L698.35,135.73 L698.67,135.68 L699.03,135.66 L699.44,135.66 L699.92,135.72 L700.49,135.83 L700.6,135.66 L700.75,135.52 L701.16,135.55 L701.5,135.52 L701.79,135.48 L702.05,135.41 L702.28,135.32 L702.49,135.23 L702.68,135.12 L702.86,135.01 L703.03,134.88 L703.18,134.75 L703.32,134.61 L703.45,134.46 L703.58,134.31 L703.69,134.15 L703.78,133.98 L703.87,133.8 L703.95,133.61 L704.02,133.42 L704.07,133.21 L704.11,132.99 L704.14,132.76 L704.15,132.52 L704.13,132.25 L704.09,131.96 L704.01,131.63 L703.85,131.25 L703.94,131.06 L704.07,130.9 L703.78,130.39 L703.58,129.95 L703.45,129.57 L703.37,129.22 L703.32,128.9 L703.29,128.59 L703.29,128.31 L703.3,128.03 L703.33,127.77 L703.37,127.52 L703.43,127.28 L703.5,127.05 L703.58,126.83 L703.67,126.61 L703.77,126.41 L703.87,126.21 L703.99,126.02 L704.12,125.84 L704.25,125.67 L704.39,125.5 L704.54,125.34 L704.7,125.19 L704.87,125.05 L705.04,124.92 L705.22,124.79 L705.41,124.67 L705.61,124.57 L705.81,124.47 L706.03,124.38 L706.25,124.3 L706.48,124.23 L706.72,124.17 L706.97,124.13 L707.23,124.1 L707.51,124.09 L707.79,124.09 L708.1,124.12 L708.42,124.17 L708.77,124.25 L709.15,124.38 L709.59,124.58 L710.1,124.87 L710.26,124.74 L710.45,124.65 L710.83,124.81 L711.16,124.89 L711.45,124.93 L711.72,124.95 L711.96,124.94 L712.19,124.91 L712.41,124.87 L712.62,124.82 L712.81,124.75 L713,124.67 L713.18,124.58 L713.35,124.49 L713.51,124.38 L713.66,124.25 L713.81,124.12 L713.95,123.98 L714.08,123.83 L714.21,123.66 L714.32,123.48 L714.43,123.29 L714.52,123.08 L714.61,122.85 L714.68,122.59 L714.72,122.3 L714.75,121.96 L714.72,121.55 L714.86,121.4 L715.03,121.29 L714.92,120.72 L714.86,120.24 L714.86,119.83 L714.88,119.47 L714.93,119.15 L715,118.85 L715.09,118.58 L715.19,118.32 L715.29,118.08 L715.41,117.86 L715.54,117.65 L715.68,117.45 L715.82,117.26 L715.97,117.09 L716.13,116.92 L716.29,116.77 L716.46,116.62 L716.64,116.49 L716.82,116.37 L717.01,116.25 L717.2,116.15 L717.4,116.06 L717.6,115.97 L717.81,115.9 L718.02,115.83 L718.23,115.78 L718.45,115.74 L718.68,115.71 L718.91,115.69 L719.15,115.68 L719.39,115.69 L719.63,115.71 L719.88,115.74 L720.14,115.8 L720.41,115.87 L720.68,115.96 L720.96,116.08 L721.25,116.23 L721.56,116.42 L721.88,116.66 L722.24,116.99 L722.63,117.42 L722.82,117.34 L723.03,117.32 L723.35,117.58 L723.63,117.76 L723.89,117.89 L724.14,117.99 L724.38,118.06 L724.61,118.1 L724.83,118.13 L725.04,118.14 L725.25,118.14 L725.45,118.12 L725.64,118.09 L725.84,118.05 L726.03,118 L726.21,117.93 L726.39,117.85 L726.57,117.76 L726.74,117.66 L726.91,117.54 L727.07,117.4 L727.24,117.25 L727.39,117.08 L727.54,116.88 L727.69,116.66 L727.82,116.4 L727.95,116.09 L728.05,115.69 L728.23,115.58 L728.43,115.53 L728.49,114.95 L728.59,114.48 L728.71,114.09 L728.85,113.76 L729,113.47 L729.15,113.21 L729.32,112.97 L729.49,112.76 L729.67,112.56 L729.85,112.39 L730.04,112.23 L730.23,112.08 L730.42,111.95 L730.62,111.83 L730.82,111.72 L731.03,111.62 L731.23,111.54 L731.44,111.47 L731.65,111.41 L731.86,111.36 L732.08,111.32 L732.29,111.29 L732.51,111.27 L732.73,111.26 L732.95,111.27 L733.17,111.28 L733.4,111.31 L733.62,111.35 L733.85,111.4 L734.07,111.47 L734.3,111.55 L734.53,111.65 L734.76,111.76 L734.98,111.89 L735.21,112.04 L735.44,112.21 L735.68,112.41 L735.91,112.64 L736.14,112.92 L736.37,113.25 L736.61,113.67 L736.85,114.2 L737.06,114.19 L737.26,114.23 L737.48,114.58 L737.7,114.84 L737.91,115.04 L738.11,115.21 L738.32,115.35 L738.52,115.46 L738.72,115.56 L738.92,115.63 L739.11,115.7 L739.31,115.74 L739.51,115.77 L739.7,115.79 L739.9,115.8 L740.1,115.79 L740.29,115.77 L740.49,115.74 L740.69,115.7 L740.88,115.63 L741.08,115.56 L741.28,115.46 L741.48,115.35 L741.69,115.21 L741.89,115.04 L742.1,114.84 L742.32,114.58 L742.54,114.23 L742.74,114.19 L742.95,114.2 L743.19,113.67 L743.43,113.25 L743.66,112.92 L743.89,112.64 L744.12,112.41 L744.36,112.21 L744.59,112.04 L744.82,111.89 L745.04,111.76 L745.27,111.65 L745.5,111.55 L745.73,111.47 L745.95,111.4 L746.18,111.35 L746.4,111.31 L746.63,111.28 L746.85,111.27 L747.07,111.26 L747.29,111.27 L747.51,111.29 L747.72,111.32 L747.94,111.36 L748.15,111.41 L748.36,111.47 L748.57,111.54 L748.77,111.62 L748.98,111.72 L749.18,111.83 L749.38,111.95 L749.57,112.08 L749.76,112.23 L749.95,112.39 L750.13,112.56 L750.31,112.76 L750.48,112.97 L750.65,113.21 L750.8,113.47 L750.95,113.76 L751.09,114.09 L751.21,114.48 L751.31,114.95 L751.37,115.53 L751.57,115.58 L751.75,115.69 L751.85,116.09 L751.98,116.4 L752.11,116.66 L752.26,116.88 L752.41,117.08 L752.56,117.25 L752.73,117.4 L752.89,117.54 L753.06,117.66 L753.23,117.76 L753.41,117.85 L753.59,117.93 L753.77,118 L753.96,118.05 L754.16,118.09 L754.35,118.12 L754.55,118.14 L754.76,118.14 L754.97,118.13 L755.19,118.1 L755.42,118.06 L755.66,117.99 L755.91,117.89 L756.17,117.76 L756.45,117.58 L756.77,117.32 L756.98,117.34 L757.17,117.42 L757.56,116.99 L757.92,116.66 L758.24,116.42 L758.55,116.23 L758.84,116.08 L759.12,115.96 L759.39,115.87 L759.66,115.8 L759.92,115.74 L760.17,115.71 L760.41,115.69 L760.65,115.68 L760.89,115.69 L761.12,115.71 L761.35,115.74 L761.57,115.78 L761.78,115.83 L761.99,115.9 L762.2,115.97 L762.4,116.06 L762.6,116.15 L762.79,116.25 L762.98,116.37 L763.16,116.49 L763.34,116.62 L763.51,116.77 L763.67,116.92 L763.83,117.09 L763.98,117.26 L764.12,117.45 L764.26,117.65 L764.39,117.86 L764.51,118.08 L764.61,118.32 L764.71,118.58 L764.8,118.85 L764.87,119.15 L764.92,119.47 L764.94,119.83 L764.94,120.24 L764.88,120.72 L764.77,121.29 L764.94,121.4 L765.08,121.55 L765.05,121.96 L765.08,122.3 L765.12,122.59 L765.19,122.85 L765.28,123.08 L765.37,123.29 L765.48,123.48 L765.59,123.66 L765.72,123.83 L765.85,123.98 L765.99,124.12 L766.14,124.25 L766.29,124.38 L766.45,124.49 L766.62,124.58 L766.8,124.67 L766.99,124.75 L767.18,124.82 L767.39,124.87 L767.61,124.91 L767.84,124.94 L768.08,124.95 L768.35,124.93 L768.64,124.89 L768.97,124.81 L769.35,124.65 L769.54,124.74 L769.7,124.87 L770.21,124.58 L770.65,124.38 L771.03,124.25 L771.38,124.17 L771.7,124.12 L772.01,124.09 L772.29,124.09 L772.57,124.1 L772.83,124.13 L773.08,124.17 L773.32,124.23 L773.55,124.3 L773.77,124.38 L773.99,124.47 L774.19,124.57 L774.39,124.67 L774.58,124.79 L774.76,124.92 L774.93,125.05 L775.1,125.19 L775.26,125.34 L775.41,125.5 L775.55,125.67 L775.68,125.84 L775.81,126.02 L775.93,126.21 L776.03,126.41 L776.13,126.61 L776.22,126.83 L776.3,127.05 L776.37,127.28 L776.43,127.52 L776.47,127.77 L776.5,128.03 L776.51,128.31 L776.51,128.59 L776.48,128.9 L776.43,129.22 L776.35,129.57 L776.22,129.95 L776.02,130.39 L775.73,130.9 L775.86,131.06 L775.95,131.25 L775.79,131.63 L775.71,131.96 L775.67,132.25 L775.65,132.52 L775.66,132.76 L775.69,132.99 L775.73,133.21 L775.78,133.42 L775.85,133.61 L775.93,133.8 L776.02,133.98 L776.11,134.15 L776.22,134.31 L776.35,134.46 L776.48,134.61 L776.62,134.75 L776.77,134.88 L776.94,135.01 L777.12,135.12 L777.31,135.23 L777.52,135.32 L777.75,135.41 L778.01,135.48 L778.3,135.52 L778.64,135.55 L779.05,135.52 L779.2,135.66 L779.31,135.83 L779.88,135.72 L780.36,135.66 L780.77,135.66 L781.13,135.68 L781.45,135.73 L781.75,135.8 L782.02,135.89 L782.28,135.99 L782.52,136.09 L782.74,136.21 L782.95,136.34 L783.15,136.48 L783.34,136.62 L783.51,136.77 L783.68,136.93 L783.83,137.09 L783.98,137.26 L784.11,137.44 L784.23,137.62 L784.35,137.81 L784.45,138 L784.54,138.2 L784.63,138.4 L784.7,138.61 L784.77,138.82 L784.82,139.03 L784.86,139.25 L784.89,139.48 L784.91,139.71 L784.92,139.95 L784.91,140.19 L784.89,140.43 L784.86,140.68 L784.8,140.94 L784.73,141.21 L784.64,141.48 L784.52,141.76 L784.37,142.05 L784.18,142.36 L783.94,142.68 L783.61,143.04 L783.18,143.43 L783.26,143.62 L783.28,143.83 L783.02,144.15 L782.84,144.43 L782.71,144.69 L782.61,144.94 L782.54,145.18 L782.5,145.41 L782.47,145.63 L782.46,145.84 L782.46,146.05 L782.48,146.25 L782.51,146.44 L782.55,146.64 L782.6,146.83 L782.67,147.01 L782.75,147.19 L782.84,147.37 L782.94,147.54 L783.06,147.71 L783.2,147.87 L783.35,148.04 L783.52,148.19 L783.72,148.34 L783.94,148.49 L784.2,148.62 L784.51,148.75 L784.91,148.85 L785.02,149.03 L785.07,149.23 L785.65,149.29 L786.12,149.39 L786.51,149.51 L786.84,149.65 L787.13,149.8 L787.39,149.95 L787.63,150.12 L787.84,150.29 L788.04,150.47 L788.21,150.65 L788.37,150.84 L788.52,151.03 L788.65,151.22 L788.77,151.42 L788.88,151.62 L788.98,151.83 L789.06,152.03 L789.13,152.24 L789.19,152.45 L789.24,152.66 L789.28,152.88 L789.31,153.09 L789.33,153.31 L789.34,153.53 L789.33,153.75 L789.32,153.97 L789.29,154.2 L789.25,154.42 L789.2,154.65 L789.13,154.87 L789.05,155.1 L788.95,155.33 L788.84,155.56 L788.71,155.78 L788.56,156.01 L788.39,156.24 L788.19,156.48 L787.96,156.71 L787.68,156.94 L787.35,157.17 L786.93,157.41 L786.4,157.65 L786.41,157.86 L786.37,158.06 L786.02,158.28 L785.76,158.5 L785.56,158.71 L785.39,158.91 L785.25,159.12 L785.14,159.32 L785.04,159.52 L784.97,159.72 L784.9,159.91 L784.86,160.11 L784.83,160.31 L784.81,160.5 Z" fill="#231f20"/>
<circle cx="739.9" cy="160.7" r="27.35" fill="#cfdff0"/>
<line x1="808.2" y1="122.6" x2="830.8" y2="202" stroke="#fff" stroke-width="21" stroke-linecap="round"/>
<line x1="808.2" y1="122.6" x2="830.8" y2="202" stroke="#231f20" stroke-width="18.4" stroke-linecap="round"/>
<line x1="830.8" y1="202" x2="854.5" y2="121.5" stroke="#fff" stroke-width="21" stroke-linecap="round"/>
<line x1="830.8" y1="202" x2="854.5" y2="121.5" stroke="#231f20" stroke-width="18.4" stroke-linecap="round"/>
<line x1="854.5" y1="121.5" x2="877.1" y2="202" stroke="#fff" stroke-width="21" stroke-linecap="round"/>
<line x1="854.5" y1="121.5" x2="877.1" y2="202" stroke="#231f20" stroke-width="18.4" stroke-linecap="round"/>
<line x1="877.1" y1="202" x2="900.3" y2="122.1" stroke="#fff" stroke-width="21" stroke-linecap="round"/>
<line x1="877.1" y1="202" x2="900.3" y2="122.1" stroke="#231f20" stroke-width="18.4" stroke-linecap="round"/>
<circle cx="808.2" cy="122.6" r="2.3" fill="#fff"/>
<circle cx="830.8" cy="202" r="2.3" fill="#fff"/>
<circle cx="854.5" cy="121.5" r="2.3" fill="#fff"/>
<circle cx="877.1" cy="202" r="2.3" fill="#fff"/>
<g fill="#231f20"><circle cx="928.4" cy="122.1" r="9.1"/><circle cx="928.4" cy="137.5" r="9.1"/><circle cx="928.4" cy="152.9" r="9.1"/><circle cx="928.4" cy="168.4" r="9.1"/><circle cx="928.4" cy="183.8" r="9.1"/><circle cx="928.4" cy="201.5" r="9.1"/><circle cx="990.7" cy="122.1" r="9.1"/><circle cx="990.7" cy="137.5" r="9.1"/><circle cx="990.7" cy="152.9" r="9.1"/><circle cx="990.7" cy="168.4" r="9.1"/><circle cx="990.7" cy="183.8" r="9.1"/><circle cx="990.7" cy="201.5" r="9.1"/><circle cx="938.9" cy="134.2" r="9.1"/><circle cx="949.4" cy="148.5" r="9.1"/><circle cx="959.3" cy="162.3" r="9.1"/><circle cx="969.2" cy="176.1" r="9.1"/><circle cx="979.1" cy="188.2" r="9.1"/></g>
</g>
</svg></body></html>
